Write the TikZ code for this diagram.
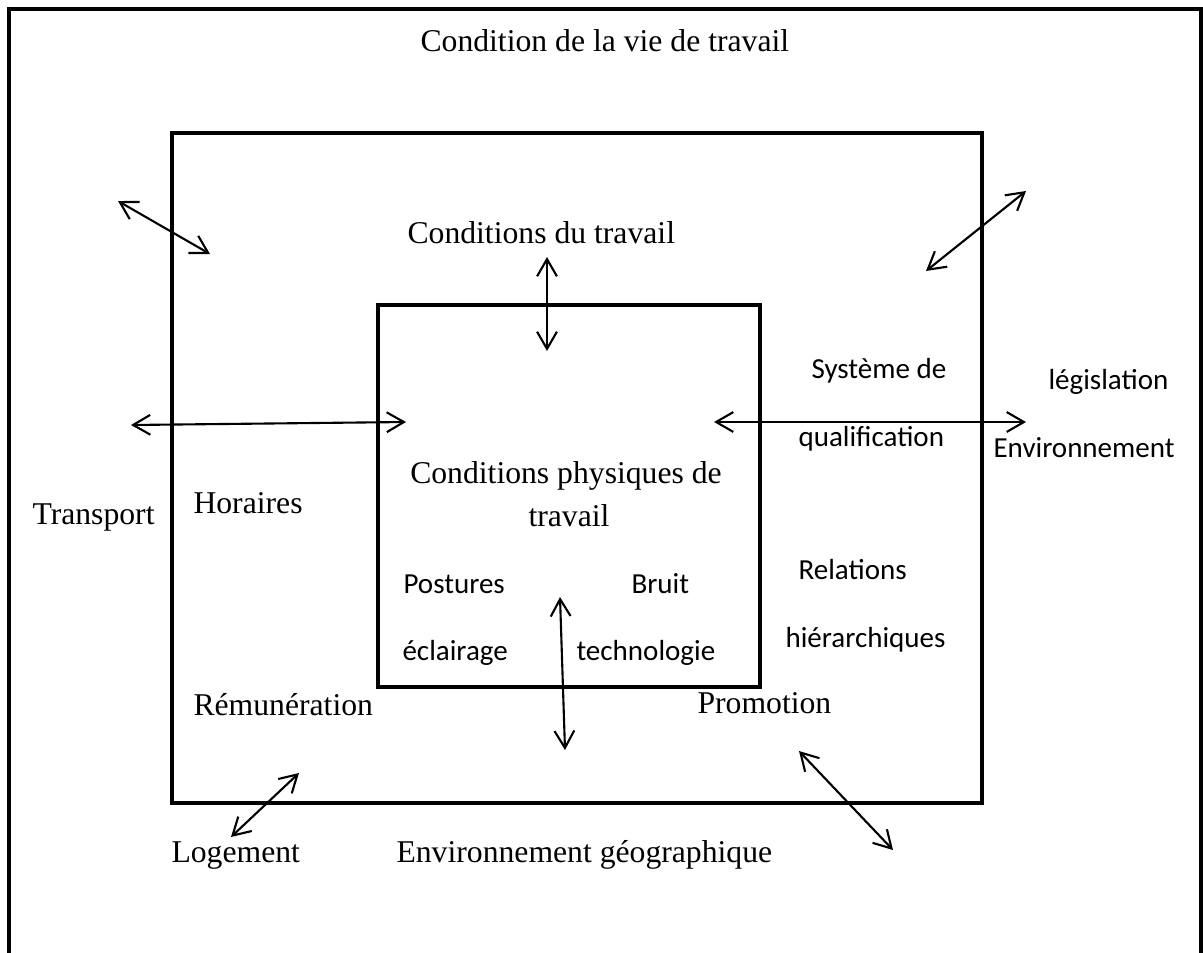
\documentclass[tikz,border=0pt]{standalone}
\usepackage{fontspec}
\setmainfont{Liberation Serif}
\newfontfamily\calibri{Carlito}
\usetikzlibrary{arrows.meta}

\tikzset{
  cadre/.style={line width=1.5pt},
  fleche/.style={line width=0.8pt, {Straight Barb[length=6.5pt,width=7.5pt]}-{Straight Barb[length=6.5pt,width=7.5pt]}},
  serif/.style={anchor=base west, inner sep=0pt, font=\fontsize{12}{14}\selectfont},
  sans/.style={anchor=base west, inner sep=0pt, font=\calibri\fontsize{11}{13}\selectfont}
}

\begin{document}
\begin{tikzpicture}[x=0.3788pt, y=-0.3788pt]
\useasboundingbox (0,0) rectangle (1203,952);
% cadres
\draw[cadre] (9,965) -- (9,9) -- (1201,9) -- (1201,965);
\draw[cadre] (172,133) rectangle (982,803);
\draw[cadre] (378,305) rectangle (760,687);

% textes
\node[serif] (vie) at (420,51) {Condition de la vie de travail};
\node[serif] (cdt) at (407,243) {Conditions du travail};
\node[serif, anchor=base] (phys) at (566,483) {Conditions physiques de};
\node[serif, anchor=base] (phys2) at (569,526) {travail};
\node[sans] (post) at (403,593) {Postures};
\node[sans] (bruit) at (631,593) {Bruit};
\node[sans] (ecl) at (402,660) {éclairage};
\node[sans] (techno) at (576,660) {technologie};
\node[serif] (transp) at (32,524) {Transport};
\node[serif] (hor) at (193,513) {Horaires};
\node[serif] (remu) at (193,715) {Rémunération};
\node[serif] (loge) at (171,862) {Logement};
\node[serif] (geo) at (396,862) {Environnement géographique};
\node[serif] (promo) at (697,713) {Promotion};
\node[sans] (rel) at (798,579) {Relations};
\node[sans] (hier) at (785,647) {hiérarchiques};
\node[sans] (sys) at (811,378) {Système de};
\node[sans] (qualif) at (798,446) {qualification};
\node[sans] (legis) at (1048,389) {législation};
\node[sans] (env) at (993,457) {Environnement};

% fleches
\coordinate (a1) at (118,201);  \coordinate (b1) at (210,254);
\coordinate (a2) at (131,425);  \coordinate (b2) at (406,422);
\coordinate (a3) at (926,271);  \coordinate (b3) at (1026,191);
\coordinate (a4) at (714,422);  \coordinate (b4) at (1026,422);
\coordinate (a5) at (547,257);  \coordinate (b5) at (547,351);
\coordinate (a6) at (560,597);  \coordinate (b6) at (565,750);
\coordinate (a7) at (231,837);  \coordinate (b7) at (299,773);
\coordinate (a8) at (799,751);  \coordinate (b8) at (893,850);
\foreach \i in {1,...,8}
  \draw[fleche] (a\i) -- (b\i);
\end{tikzpicture}
\end{document}
